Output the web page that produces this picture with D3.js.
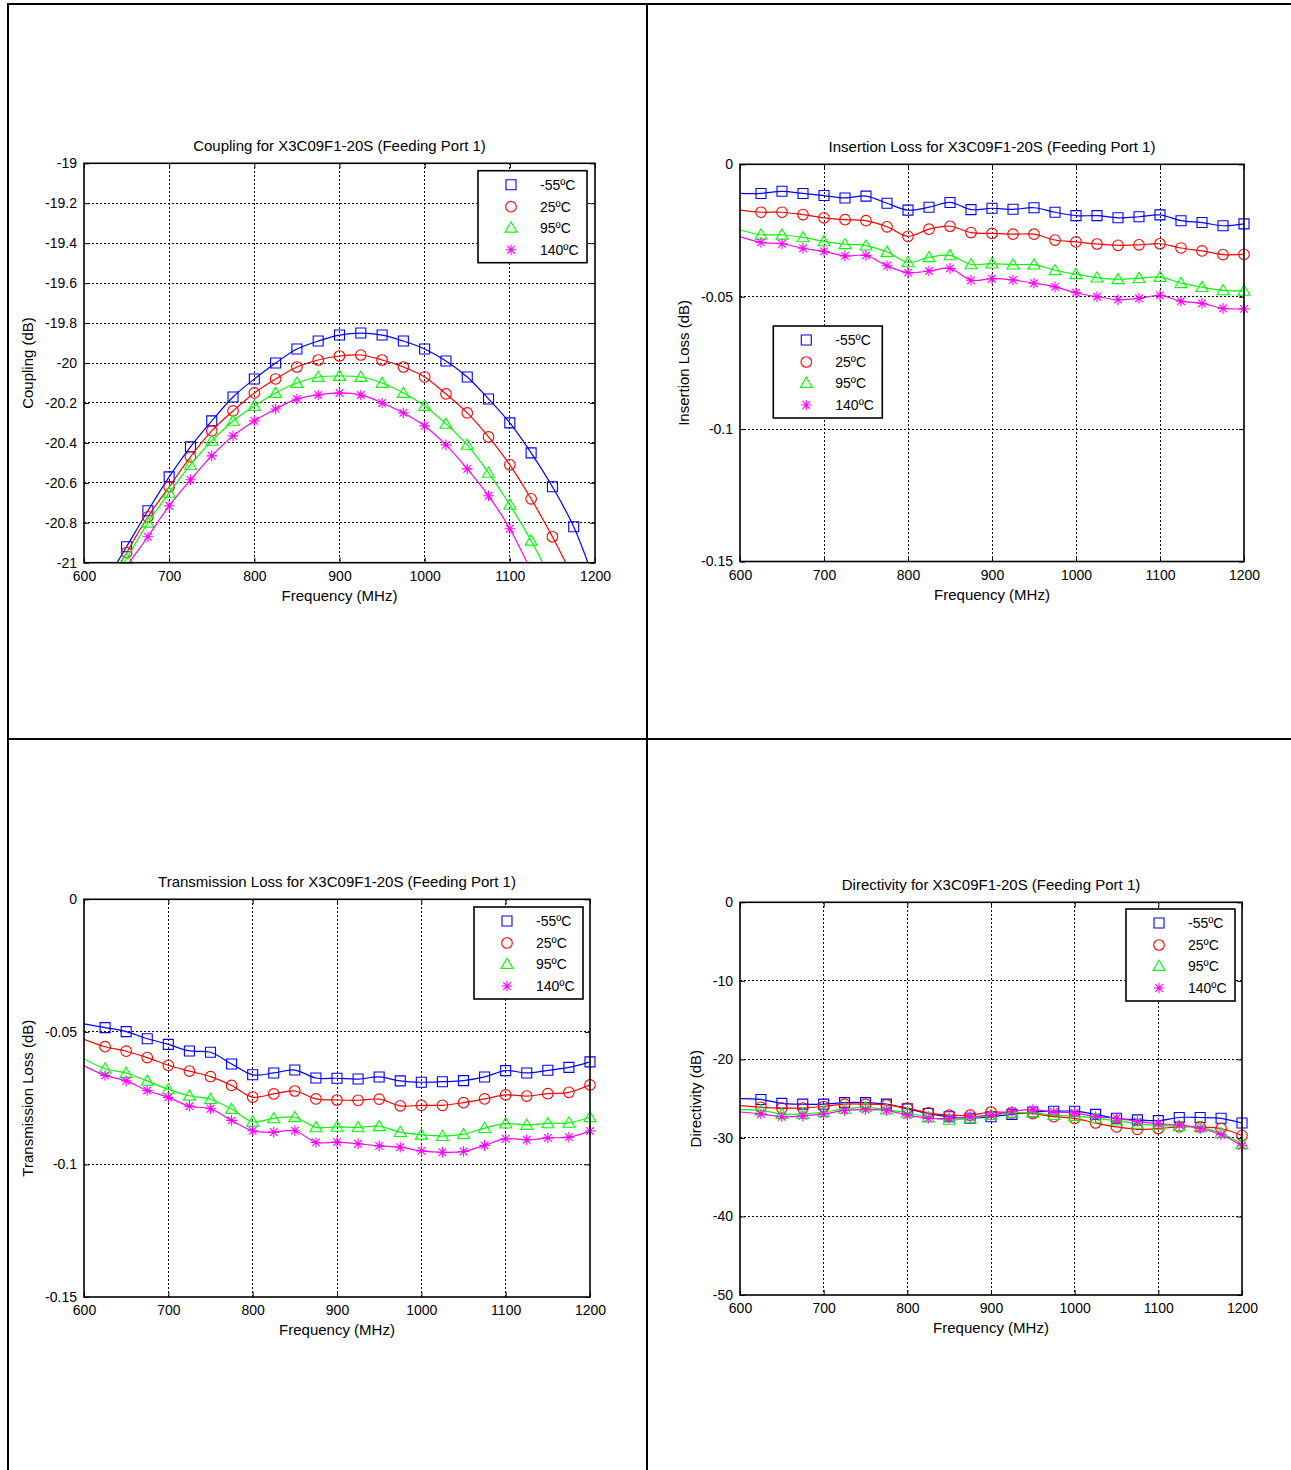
<!DOCTYPE html>
<meta charset="utf-8">
<script src="https://cdn.jsdelivr.net/npm/d3@7/dist/d3.min.js"></script>
<style>
    body { margin: 0; background: #fff; }
    text { font-family: "Liberation Sans", Arial, Helvetica, sans-serif; fill: #000; }
    .grid { stroke: #000; stroke-width: 1; stroke-dasharray: 2,2; shape-rendering: crispEdges; }
    .frame { fill: none; stroke: #000; stroke-width: 1.6; }
    .curve { fill: none; stroke-width: 1.2; }
</style>
<body>
<script>

    // frequency points (MHz), line starts at 600, markers from 625
    var freq = [600, 625, 650, 675, 700, 725, 750, 775, 800, 825, 850, 875, 900, 925, 950, 975, 1000, 1025, 1050, 1075, 1100, 1125, 1150, 1175, 1200]
    var freqTicks = [600, 700, 800, 900, 1000, 1100, 1200]

    var temps = ["-55ºC", "25ºC", "95ºC", "140ºC"]
    var colors = ["#0000ff", "#ff0000", "#00ff00", "#ff00ff"]
    var shapes = ["square", "circle", "triangle", "star"]

    // Coupling (dB)
    var couplingTicks = [-21, -20.8, -20.6, -20.4, -20.2, -20, -19.8, -19.6, -19.4, -19.2, -19]
    var coup55 = [-21.3, -21.1, -20.92, -20.74, -20.57, -20.42, -20.29, -20.17, -20.08, -20.0, -19.93, -19.89, -19.86, -19.85, -19.86, -19.89, -19.93, -19.99, -20.07, -20.18, -20.30, -20.45, -20.62, -20.82, -21.1]
    var coup25 = [-21.35, -21.13, -20.95, -20.77, -20.62, -20.47, -20.34, -20.24, -20.15, -20.08, -20.02, -19.985, -19.965, -19.96, -19.985, -20.02, -20.07, -20.155, -20.25, -20.37, -20.51, -20.68, -20.87, -21.08, -21.3]
    var coup95 = [-21.35, -21.15, -20.98, -20.80, -20.65, -20.51, -20.39, -20.29, -20.215, -20.15, -20.10, -20.07, -20.065, -20.07, -20.10, -20.15, -20.215, -20.305, -20.41, -20.55, -20.71, -20.89, -21.1, -21.35, -21.6]
    var coup140 = [-21.4, -21.2, -21.02, -20.87, -20.715, -20.585, -20.465, -20.365, -20.29, -20.23, -20.18, -20.16, -20.15, -20.16, -20.20, -20.25, -20.315, -20.41, -20.53, -20.665, -20.83, -21.04, -21.25, -21.5, -21.75]

    // Insertion loss (dB)
    var lossTicks = [-0.15, -0.1, -0.05, 0]
    var ins55 = [-0.0110, -0.0110, -0.0102, -0.0110, -0.0118, -0.0127, -0.0120, -0.0147, -0.0173, -0.0162, -0.0144, -0.0171, -0.0166, -0.0170, -0.0164, -0.0181, -0.0194, -0.0194, -0.0202, -0.0198, -0.0191, -0.0213, -0.0220, -0.0232, -0.0225]
    var ins25 = [-0.0173, -0.0181, -0.0181, -0.0190, -0.0202, -0.0209, -0.0213, -0.0236, -0.0272, -0.0245, -0.0234, -0.0258, -0.0261, -0.0264, -0.0264, -0.0286, -0.0293, -0.0301, -0.0306, -0.0304, -0.0300, -0.0316, -0.0327, -0.0341, -0.0340]
    var ins95 = [-0.0248, -0.0266, -0.0266, -0.0276, -0.0291, -0.0302, -0.0307, -0.0331, -0.0370, -0.0351, -0.0344, -0.0378, -0.0375, -0.0379, -0.0379, -0.0400, -0.0415, -0.0428, -0.0434, -0.0430, -0.0426, -0.0449, -0.0464, -0.0476, -0.0478]
    var ins140 = [-0.0273, -0.0295, -0.0300, -0.0317, -0.0329, -0.0346, -0.0344, -0.0383, -0.0409, -0.0403, -0.0393, -0.0438, -0.0432, -0.0437, -0.0449, -0.0463, -0.0485, -0.0500, -0.0511, -0.0506, -0.0495, -0.0517, -0.0525, -0.0544, -0.0546]

    // Transmission loss (dB)
    var tra55 = [-0.0470, -0.0484, -0.0499, -0.0526, -0.0547, -0.0572, -0.0577, -0.0621, -0.0662, -0.0655, -0.0644, -0.0674, -0.0675, -0.0678, -0.0670, -0.0685, -0.0690, -0.0688, -0.0684, -0.0670, -0.0646, -0.0655, -0.0645, -0.0634, -0.0613]
    var tra25 = [-0.0528, -0.0556, -0.0573, -0.0597, -0.0626, -0.0648, -0.0669, -0.0702, -0.0746, -0.0734, -0.0723, -0.0753, -0.0757, -0.0758, -0.0754, -0.0779, -0.0777, -0.0777, -0.0767, -0.0753, -0.0738, -0.0742, -0.0733, -0.0728, -0.0700]
    var tra95 = [-0.0602, -0.0639, -0.0655, -0.0685, -0.0717, -0.0741, -0.0754, -0.0791, -0.0839, -0.0826, -0.0822, -0.0860, -0.0858, -0.0860, -0.0856, -0.0878, -0.0888, -0.0893, -0.0886, -0.0863, -0.0846, -0.0851, -0.0845, -0.0843, -0.0822]
    var tra140 = [-0.0628, -0.0664, -0.0685, -0.0721, -0.0747, -0.0780, -0.0790, -0.0834, -0.0873, -0.0878, -0.0873, -0.0917, -0.0916, -0.0922, -0.0930, -0.0935, -0.0949, -0.0954, -0.0951, -0.0928, -0.0903, -0.0907, -0.0900, -0.0897, -0.0874]

    // Directivity (dB)
    var dirTicks = [-50, -40, -30, -20, -10, 0]
    var dir55 = [-25.0, -25.1, -25.6, -25.7, -25.7, -25.5, -25.5, -25.7, -26.3, -26.9, -27.3, -27.5, -27.3, -27.0, -26.7, -26.6, -26.6, -27.0, -27.5, -27.7, -27.8, -27.4, -27.4, -27.5, -28.1]
    var dir25 = [-25.9, -26.1, -26.2, -26.2, -26.0, -25.7, -25.7, -25.8, -26.2, -26.8, -27.1, -27.1, -26.7, -26.8, -26.9, -27.3, -27.5, -28.1, -28.6, -28.9, -28.8, -28.6, -28.6, -28.8, -29.7]
    var dir95 = [-26.4, -26.5, -26.95, -26.95, -26.7, -26.3, -26.1, -26.4, -26.8, -27.4, -27.7, -27.5, -27.1, -26.8, -26.8, -27.1, -27.2, -27.5, -27.8, -28.2, -28.4, -28.5, -28.65, -29.4, -30.8]
    var dir140 = [-26.7, -26.95, -27.3, -27.2, -26.95, -26.5, -26.4, -26.5, -27.1, -27.5, -27.5, -27.3, -27.1, -26.6, -26.4, -26.7, -26.8, -27.3, -27.5, -27.9, -28.2, -28.35, -28.8, -29.6, -31.0]

    var W = 1291, H = 1470

    var panels = [
        {title: "Coupling for X3C09F1-20S (Feeding Port 1)", ylabel: "Coupling (dB)",
         left: 84, right: 595, top: 163.3, bottom: 562.7, domain: [-21, -19], ticks: couplingTicks,
         series: [coup55, coup25, coup95, coup140], lx: 478, ly: 170.7, yl: 32.5},
        {title: "Insertion Loss for X3C09F1-20S (Feeding Port 1)", ylabel: "Insertion Loss (dB)",
         left: 740, right: 1244, top: 164.3, bottom: 561.5, domain: [-0.15, 0], ticks: lossTicks,
         series: [ins55, ins25, ins95, ins140], lx: 773.3, ly: 326, yl: 689},
        {title: "Transmission Loss for X3C09F1-20S (Feeding Port 1)", ylabel: "Transmission Loss (dB)",
         left: 84, right: 590, top: 899.3, bottom: 1297, domain: [-0.15, 0], ticks: lossTicks,
         series: [tra55, tra25, tra95, tra140], lx: 474, ly: 907, yl: 32.5},
        {title: "Directivity for X3C09F1-20S (Feeding Port 1)", ylabel: "Directivity (dB)",
         left: 740, right: 1242, top: 902.3, bottom: 1295, domain: [-50, 0], ticks: dirTicks,
         series: [dir55, dir25, dir95, dir140], lx: 1126, ly: 909, yl: 701}
    ]

    var svg = d3.select("body").append("svg").attr("width", W).attr("height", H)
    svg.append("rect").attr("width", W).attr("height", H).attr("fill", "#fff")

    // table cell borders
    var borders = svg.append("g").attr("stroke", "#000").attr("stroke-width", 2)
    borders.append("line").attr("x1", 8).attr("x2", 8).attr("y1", 3).attr("y2", H)
    borders.append("line").attr("x1", 7).attr("x2", W).attr("y1", 4).attr("y2", 4)
    borders.append("line").attr("x1", 647).attr("x2", 647).attr("y1", 3).attr("y2", H)
    borders.append("line").attr("x1", 7).attr("x2", W).attr("y1", 739).attr("y2", 739)

    function drawMarker(sel, shape, color) {
        if (shape == "circle") {
            sel.append("circle").attr("r", 5.3).attr("fill", "none").attr("stroke", color).attr("stroke-width", 1.1)
        } else {
            var p = {
                square: "M-5,-5h10v10h-10z",
                triangle: "M0,-5.8L6,4.4L-6,4.4Z",
                star: "M-5.3,0H5.3M0,-5.3V5.3M-3.8,-3.8L3.8,3.8M-3.8,3.8L3.8,-3.8"
            }[shape]
            sel.append("path").attr("d", p).attr("fill", "none").attr("stroke", color).attr("stroke-width", 1.1)
        }
    }

    panels.forEach((p, k) => {
        var x = d3.scaleLinear().domain([600, 1200]).range([p.left, p.right])
        var y = d3.scaleLinear().domain(p.domain).range([p.bottom, p.top])
        var g = svg.append("g")

        // dotted grid
        g.selectAll(".gx").data(freqTicks.slice(1, -1)).enter().append("line").attr("class", "grid")
            .attr("x1", d => x(d)).attr("x2", d => x(d)).attr("y1", p.top).attr("y2", p.bottom)
        g.selectAll(".gy").data(p.ticks.slice(1, -1)).enter().append("line").attr("class", "grid")
            .attr("x1", p.left).attr("x2", p.right).attr("y1", d => y(d)).attr("y2", d => y(d))

        // ticks and labels
        var fmt = d => String(d)
        g.append("g").attr("transform", "translate(0," + p.bottom + ")")
            .call(d3.axisBottom(x).tickValues(freqTicks).tickSize(-5).tickPadding(8.5).tickFormat(fmt))
            .attr("font-size", 14).attr("font-family", null)
        g.append("g").attr("transform", "translate(0," + p.top + ")")
            .call(d3.axisTop(x).tickValues(freqTicks).tickSize(-5).tickFormat(""))
        g.append("g").attr("transform", "translate(" + p.left + ",0)")
            .call(d3.axisLeft(y).tickValues(p.ticks).tickSize(-5).tickPadding(7).tickFormat(fmt))
            .attr("font-size", 14).attr("font-family", null)
        g.append("g").attr("transform", "translate(" + p.right + ",0)")
            .call(d3.axisRight(y).tickValues(p.ticks).tickSize(-5).tickFormat(""))
        g.selectAll(".domain").remove()

        // clip for lines
        var cid = "clip" + k
        svg.append("clipPath").attr("id", cid).append("rect")
            .attr("x", p.left).attr("y", p.top).attr("width", p.right - p.left).attr("height", p.bottom - p.top)

        var line = d3.line().x((d, i) => x(freq[i])).y(d => y(d)).curve(d3.curveCatmullRom.alpha(0.5))

        p.series.forEach((s, j) => {
            g.append("path").datum(s).attr("class", "curve").attr("d", line)
                .attr("stroke", colors[j]).attr("clip-path", "url(#" + cid + ")")

            var pts = s.map((v, i) => ({f: freq[i], v: v}))
                .filter(d => d.f > 600 && d.v >= p.domain[0] && d.v <= p.domain[1])
            g.selectAll(".m" + j).data(pts).enter().append("g")
                .attr("transform", d => "translate(" + x(d.f) + "," + y(d.v) + ")")
                .each(function () { drawMarker(d3.select(this), shapes[j], colors[j]) })
        })

        g.append("rect").attr("class", "frame")
            .attr("x", p.left).attr("y", p.top).attr("width", p.right - p.left).attr("height", p.bottom - p.top)

        // title and axis labels
        g.append("text").attr("x", (p.left + p.right) / 2).attr("y", p.top - 12)
            .attr("text-anchor", "middle").attr("font-size", 15).text(p.title)
        g.append("text").attr("x", (p.left + p.right) / 2).attr("y", p.bottom + 38)
            .attr("text-anchor", "middle").attr("font-size", 15).text("Frequency (MHz)")
        g.append("text").attr("transform", "translate(" + p.yl + "," + (p.top + p.bottom) / 2 + ") rotate(-90)")
            .attr("text-anchor", "middle").attr("font-size", 15).text(p.ylabel)

        // legend
        var lg = g.append("g").attr("transform", "translate(" + p.lx + "," + p.ly + ")")
        lg.append("rect").attr("width", 109).attr("height", 92).attr("fill", "#fff")
            .attr("stroke", "#000").attr("stroke-width", 1.6)
        var rows = [14, 36, 57, 79]
        temps.forEach((t, j) => {
            var m = lg.append("g").attr("transform", "translate(33," + rows[j] + ")")
            drawMarker(m, shapes[j], colors[j])
            lg.append("text").attr("x", 62).attr("y", rows[j] + 5).attr("font-size", 14).text(t)
        })
    })

</script>
</body>
</html>
